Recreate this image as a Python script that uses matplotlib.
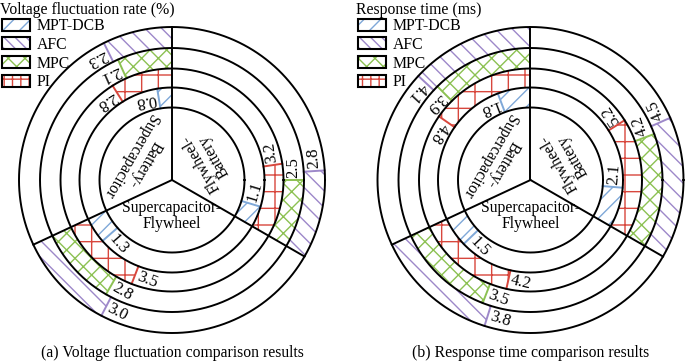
import numpy as np
import matplotlib
matplotlib.use('Agg')
import matplotlib.pyplot as plt
from matplotlib.patches import Patch
from matplotlib.legend_handler import HandlerTuple

plt.rcParams['font.family'] = ['Liberation Serif', 'DejaVu Serif']
plt.rcParams['hatch.linewidth'] = 1.0

# ---------------- data ----------------
categories = ['Flywheel-\nBattery', 'Battery-\nSupercapacitor', 'Supercapacitor-\nFlywheel']
methods = ['MPT-DCB', 'PI', 'MPC', 'AFC']          # inner ring -> outer ring
legend_order = ['MPT-DCB', 'AFC', 'MPC', 'PI']

volt_mpt = [1.1, 0.8, 1.3]
volt_pi = [3.2, 2.8, 3.5]
volt_mpc = [2.5, 2.1, 2.8]
volt_afc = [2.8, 2.3, 3.0]

resp_mpt = [2.1, 1.8, 1.5]
resp_pi = [5.2, 4.8, 4.2]
resp_mpc = [4.2, 3.9, 3.5]
resp_afc = [4.5, 4.1, 3.8]

# ---------------- style ----------------
colors = {'MPT-DCB': '#7fa8d8', 'PI': '#d8473d', 'MPC': '#8cc152', 'AFC': '#9d88c9'}
hatches = {'MPT-DCB': '//', 'PI': '+', 'MPC': 'xx', 'AFC': '\\\\'}
legend_hatches = {'MPT-DCB': '//', 'PI': '++', 'MPC': 'xx', 'AFC': '\\\\\\'}
sector_start = [330.0, 90.0, 205.0]      # degrees, bars grow counter-clockwise
sector_end = [450.0, 205.0, 330.0]
label_angle = [30.0, 150.0, 270.0]
label_radius = [41.0, 40.0, 36.0]
ring_edges = [72.5, 92.5, 111.5, 132.0, 153.0]
RMAX = 158.0
W, H = 685, 362
FS = 11.3

fig = plt.figure(figsize=(W / 100, H / 100), dpi=100)


def draw_chart(cx, cy, data, title, caption, tx):
    ax = fig.add_axes([(cx - RMAX) / W, (H - cy - RMAX) / H, 2 * RMAX / W, 2 * RMAX / H],
                      projection='polar')
    ax.set_ylim(0, RMAX)
    ax.set_axis_off()
    # bars
    for i, cat in enumerate(categories):
        span = sector_end[i] - sector_start[i]
        scale = span / 10.0
        for k, m in enumerate(methods):
            v = data[m][i]
            r0, r1 = ring_edges[k], ring_edges[k + 1]
            a0 = np.deg2rad(sector_start[i])
            wdt = np.deg2rad(v * scale)
            ax.bar(a0, r1 - r0, width=wdt, bottom=r0, align='edge',
                   facecolor='white', edgecolor=colors[m], hatch=hatches[m],
                   linewidth=0, zorder=1)
            aend = a0 + wdt
            ax.plot([aend, aend], [r0, r1], color=colors[m], lw=1.4, zorder=2)
            rm = (r0 + r1) / 2
            ax.text(aend + 2.5 / rm, rm, f'{v:.1f}', rotation=np.rad2deg(aend) + 90,
                    rotation_mode='anchor', ha='left', va='center', fontsize=12, zorder=4)
        # category label
        rot = 0 if label_angle[i] == 270 else label_angle[i] + 90
        ax.text(np.deg2rad(label_angle[i]), label_radius[i], cat,
                rotation=rot, rotation_mode='anchor', ha='center', va='center',
                multialignment='center', fontsize=FS, linespacing=1.0, zorder=4)
    # circles
    th = np.linspace(0, 2 * np.pi, 721)
    for r in ring_edges:
        ax.plot(th, np.full_like(th, r), color='black', lw=1.4, zorder=3, clip_on=False)
    # sector boundaries
    for s in sector_start:
        ax.plot([np.deg2rad(s)] * 2, [0, ring_edges[-1]], color='black', lw=1.4, zorder=3)
    # title, legend, caption
    fig.text(tx / W, 1 - 2 / H, title, ha='left', va='top', fontsize=FS)
    handles = [(Patch(facecolor='white', edgecolor=colors[m], hatch=legend_hatches[m], lw=0),
                Patch(facecolor='none', edgecolor='black', lw=1.5)) for m in legend_order]
    fig.legend(handles, legend_order, handler_map={tuple: HandlerTuple(ndivide=1)},
               loc='upper left', bbox_to_anchor=((tx + 2) / W, 1 - 18 / H),
               frameon=False, fontsize=FS, handlelength=1.8, handleheight=0.8,
               handletextpad=0.4, labelspacing=0.18, borderpad=0.0, borderaxespad=0)
    fig.text(cx / W, 1 - 353 / H, caption, ha='center', va='center', fontsize=FS)


volt = {'MPT-DCB': volt_mpt, 'PI': volt_pi, 'MPC': volt_mpc, 'AFC': volt_afc}
resp = {'MPT-DCB': resp_mpt, 'PI': resp_pi, 'MPC': resp_mpc, 'AFC': resp_afc}

draw_chart(172, 180, volt, 'Voltage fluctuation rate (%)',
           '(a) Voltage fluctuation comparison results', 0)
draw_chart(530.5, 180, resp, 'Response time (ms)',
           '(b) Response time comparison results', 356)

fig.savefig('out.png', dpi=100)
